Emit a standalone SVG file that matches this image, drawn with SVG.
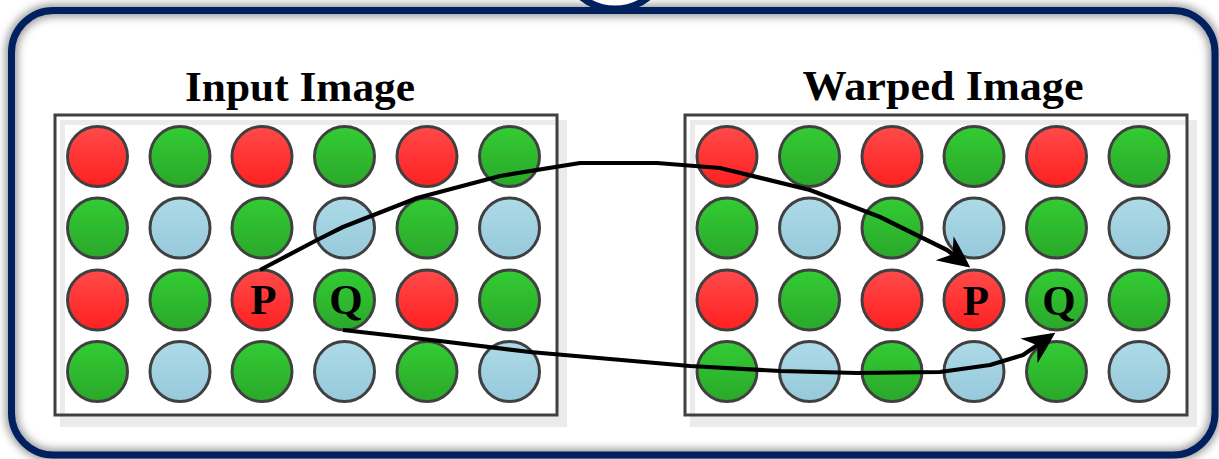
<svg xmlns="http://www.w3.org/2000/svg" width="1219" height="459" viewBox="0 0 1219 459">
  <defs>
    <linearGradient id="gRed" x1="0" y1="0" x2="0" y2="1">
      <stop offset="0" stop-color="#ff4a4a"/>
      <stop offset="1" stop-color="#ff2020"/>
    </linearGradient>
    <linearGradient id="gGreen" x1="0" y1="0" x2="0" y2="1">
      <stop offset="0" stop-color="#33cc33"/>
      <stop offset="1" stop-color="#2aa82a"/>
    </linearGradient>
    <linearGradient id="gBlue" x1="0" y1="0" x2="0" y2="1">
      <stop offset="0" stop-color="#addae7"/>
      <stop offset="1" stop-color="#96c9db"/>
    </linearGradient>
    <filter id="glow" x="-5%" y="-20%" width="110%" height="140%">
      <feGaussianBlur stdDeviation="4"/>
    </filter>
    <marker id="stealth" markerUnits="userSpaceOnUse" markerWidth="40" markerHeight="40" viewBox="-32 -16 40 32" refX="0" refY="0" orient="auto">
      <path d="M4,0 Q-12,-8 -28,-15 L-18,0 L-28,15 Q-12,8 4,0 Z" fill="#000"/>
    </marker>
  </defs>
  <style>
    .frame { fill: none; stroke: #002060; stroke-width: 7; }
    .panel { fill: none; stroke: #404040; stroke-width: 3; }
    .pshadow { fill: #ebebeb; }
    .pbg { fill: #ffffff; }
    circle.dot { stroke: #404040; stroke-width: 3; }
    .r { fill: url(#gRed); }
    .g { fill: url(#gGreen); }
    .b { fill: url(#gBlue); }
    .title { font-family: "Liberation Serif", "Times New Roman", serif; font-weight: bold; font-size: 43px; fill: #000; text-anchor: middle; }
    .lbl { font-family: "Liberation Serif", "Times New Roman", serif; font-weight: bold; font-size: 43px; fill: #000; text-anchor: middle; }
    .link { fill: none; stroke: #000; stroke-width: 4.2; stroke-linejoin: round; marker-end: url(#stealth); }
  </style>

  <rect width="1219" height="459" fill="#ffffff"/>

  <!-- outer frame with soft shadow -->
  <g id="frame">
    <rect x="11.5" y="10.5" width="1203.5" height="444.5" rx="42" fill="none" stroke="#7a7a7a" stroke-width="12" filter="url(#glow)" opacity="0.8"/>
    <circle cx="615" cy="-44" r="53" fill="#ffffff" stroke="#002060" stroke-width="7"/>
    <rect class="frame" x="11.5" y="10.5" width="1203.5" height="444.5" rx="42"/>
  </g>

  <!-- left panel -->
  <g id="input-image">
    <rect class="pshadow" x="60" y="120" width="507" height="307"/>
    <rect class="pbg" x="65" y="125" width="492" height="290"/>
    <rect class="panel" x="55" y="115" width="502" height="300"/>
    <text class="title" x="300" y="101" textLength="230" lengthAdjust="spacingAndGlyphs">Input Image</text>
    <g>
      <circle class="dot r" cx="97.5" cy="156.5" r="30"/>
      <circle class="dot g" cx="180" cy="156.5" r="30"/>
      <circle class="dot r" cx="262" cy="156.5" r="30"/>
      <circle class="dot g" cx="344.5" cy="156.5" r="30"/>
      <circle class="dot r" cx="427" cy="156.5" r="30"/>
      <circle class="dot g" cx="509.5" cy="156.5" r="30"/>

      <circle class="dot g" cx="97.5" cy="228" r="30"/>
      <circle class="dot b" cx="180" cy="228" r="30"/>
      <circle class="dot g" cx="262" cy="228" r="30"/>
      <circle class="dot b" cx="344.5" cy="228" r="30"/>
      <circle class="dot g" cx="427" cy="228" r="30"/>
      <circle class="dot b" cx="509.5" cy="228" r="30"/>

      <circle class="dot r" cx="97.5" cy="300" r="30"/>
      <circle class="dot g" cx="180" cy="300" r="30"/>
      <circle class="dot r" cx="262" cy="300" r="30"/>
      <circle class="dot g" cx="344.5" cy="300" r="30"/>
      <circle class="dot r" cx="427" cy="300" r="30"/>
      <circle class="dot g" cx="509.5" cy="300" r="30"/>

      <circle class="dot g" cx="97.5" cy="371.5" r="30"/>
      <circle class="dot b" cx="180" cy="371.5" r="30"/>
      <circle class="dot g" cx="262" cy="371.5" r="30"/>
      <circle class="dot b" cx="344.5" cy="371.5" r="30"/>
      <circle class="dot g" cx="427" cy="371.5" r="30"/>
      <circle class="dot b" cx="509.5" cy="371.5" r="30"/>
    </g>
    <text class="lbl" x="263.5" y="314">P</text>
    <text class="lbl" x="346" y="314">Q</text>
  </g>

  <!-- right panel -->
  <g id="warped-image">
    <rect class="pshadow" x="690" y="120" width="507" height="307"/>
    <rect class="pbg" x="695" y="125" width="492" height="290"/>
    <rect class="panel" x="685" y="115" width="502" height="300"/>
    <text class="title" x="943" y="100" textLength="281" lengthAdjust="spacingAndGlyphs">Warped Image</text>
    <g>
      <circle class="dot r" cx="727" cy="156.5" r="30"/>
      <circle class="dot g" cx="809.5" cy="156.5" r="30"/>
      <circle class="dot r" cx="892" cy="156.5" r="30"/>
      <circle class="dot g" cx="974" cy="156.5" r="30"/>
      <circle class="dot r" cx="1056.5" cy="156.5" r="30"/>
      <circle class="dot g" cx="1139" cy="156.5" r="30"/>

      <circle class="dot g" cx="727" cy="228" r="30"/>
      <circle class="dot b" cx="809.5" cy="228" r="30"/>
      <circle class="dot g" cx="892" cy="228" r="30"/>
      <circle class="dot b" cx="974" cy="228" r="30"/>
      <circle class="dot g" cx="1056.5" cy="228" r="30"/>
      <circle class="dot b" cx="1139" cy="228" r="30"/>

      <circle class="dot r" cx="727" cy="300" r="30"/>
      <circle class="dot g" cx="809.5" cy="300" r="30"/>
      <circle class="dot r" cx="892" cy="300" r="30"/>
      <circle class="dot r" cx="974" cy="300" r="30"/>
      <circle class="dot g" cx="1056.5" cy="300" r="30"/>
      <circle class="dot g" cx="1139" cy="300" r="30"/>

      <circle class="dot g" cx="727" cy="371.5" r="30"/>
      <circle class="dot b" cx="809.5" cy="371.5" r="30"/>
      <circle class="dot g" cx="892" cy="371.5" r="30"/>
      <circle class="dot b" cx="974" cy="371.5" r="30"/>
      <circle class="dot g" cx="1056.5" cy="371.5" r="30"/>
      <circle class="dot b" cx="1139" cy="371.5" r="30"/>
    </g>
    <text class="lbl" x="976" y="315">P</text>
    <text class="lbl" x="1059" y="315">Q</text>
  </g>

  <!-- correspondence arrows -->
  <g id="connectors">
    <path class="link" d="M260,270 L317,240 L343,227 L417,198 L500,176 L580,163 L657,163 L720,168 L810,190 L880,217 L947,250 L967,265"/>
    <path class="link" d="M343,330 L440,341 L530,352 L690,366 L780,371 L857,373 L940,372 L990,365 L1023,355 L1052,335"/>
  </g>
</svg>
